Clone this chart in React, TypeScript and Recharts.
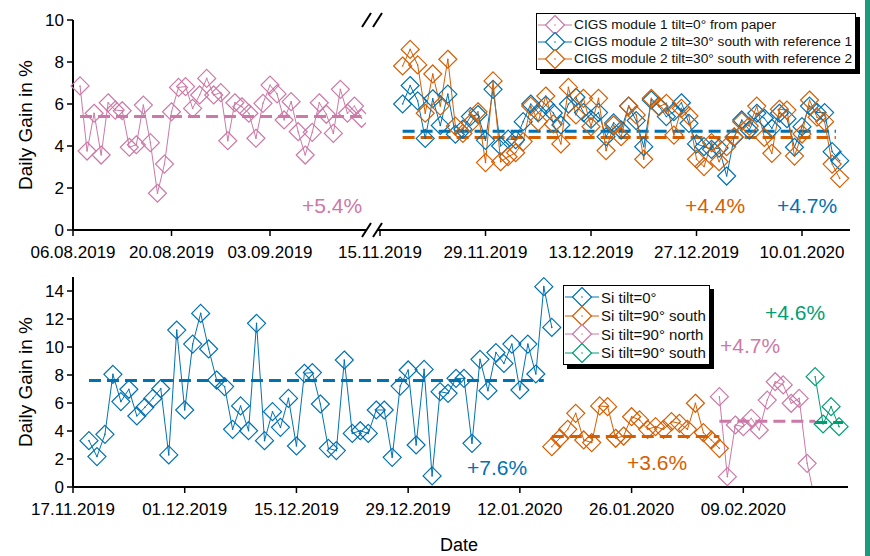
import React from "react";
import { LineChart, Line, XAxis, YAxis, ReferenceLine } from "recharts";

const PINK = "#CC79A7";
const BLUE = "#0072B2";
const ORANGE = "#D55E00";
const GREEN = "#009E73";
const FONT = "'Liberation Sans', Arial, sans-serif";

// upper panel, left block (day 0 = 06.08.2019)
const cigs1FirstDay = 1;
const cigs1Gain = [6.86, 3.76, 5.56, 3.57, 6.06, 5.71, 5.68, 3.94, 4.06, 5.95, 4.16, 1.75, 3.14, 5.63, 6.79, 6.83, 5.79, 6.43, 7.22, 6.43, 6.54, 4.25, 6.06, 5.87, 5.56, 4.37, 6.03, 6.9, 6.48, 5.24, 6.11, 4.68, 3.57, 4.65, 6.06, 5.51, 4.6, 6.7, 5.56, 5.9, 5.32];
const cigs1Mean = 5.4;
const cigs1MeanSpan = [1, 41];
const upperLeftTicks = [0, 14, 28];
const upperLeftTickLabels = ["06.08.2019", "20.08.2019", "03.09.2019"];

// upper panel, right block (day 0 = 15.11.2019)
const cigs2FirstDay = 3;
const cigs2Ref1Gain = [6.0, 6.88, 6.15, 4.36, 6.25, 4.98, 6.47, 4.56, 4.8, 5.4, 5.5, 4.27, 6.7, 4.0, 4.33, 4.3, 5.16, 6.0, 5.59, 5.95, 5.57, 5.0, 6.0, 6.32, 5.59, 5.27, 5.59, 4.44, 5.1, 4.76, 5.9, 5.21, 3.97, 6.19, 5.9, 5.4, 5.63, 6.06, 5.08, 4.1, 3.97, 3.84, 3.9, 2.57, 4.41, 5.24, 4.76, 5.56, 5.32, 4.84, 5.56, 5.3, 3.94, 4.92, 5.9, 5.6, 5.59, 3.73, 3.3];
const cigs2Ref2Gain = [7.81, 8.6, 7.86, 5.56, 7.43, 5.9, 8.13, 4.95, 4.6, 5.08, 5.63, 3.21, 7.1, 3.25, 3.49, 3.68, 4.21, 5.9, 5.16, 6.38, 5.05, 4.1, 6.79, 5.48, 6.27, 4.92, 6.27, 3.78, 5.0, 4.44, 5.9, 5.48, 3.37, 6.27, 5.87, 6.03, 4.52, 5.79, 5.43, 3.37, 3.02, 4.16, 3.25, 3.97, 4.44, 5.16, 4.95, 5.9, 4.41, 3.65, 5.75, 5.71, 3.52, 4.57, 6.19, 5.37, 5.16, 3.14, 2.46];
const cigs2Ref1Mean = 4.7;
const cigs2Ref2Mean = 4.4;
const cigs2MeanSpan = [3, 60.5];
const upperRightTicks = [0, 14, 28, 42, 56];
const upperRightTickLabels = ["15.11.2019", "29.11.2019", "13.12.2019", "27.12.2019", "10.01.2020"];

// lower panel (day 0 = 17.11.2019)
const siFlatFirstDay = 2;
const siFlatGain = [3.31, 2.17, 3.76, 8.05, 6.1, 6.98, 5.07, 5.69, 6.33, 7.02, 2.29, 11.21, 5.5, 10.21, 12.4, 9.86, 7.64, 7.17, 4.12, 5.79, 4.02, 11.69, 3.31, 5.38, 4.26, 6.33, 2.93, 8.12, 8.17, 5.93, 2.76, 2.6, 9.07, 3.83, 4.02, 3.83, 5.5, 5.5, 2.12, 7.21, 8.36, 3.0, 8.4, 0.79, 6.81, 6.69, 7.76, 7.76, 3.12, 9.12, 6.88, 9.6, 8.83, 10.21, 6.93, 10.21, 8.07, 14.31, 11.4];
const siSouthFirstDay = 60;
const siSouthGain = [2.88, 3.48, 4.12, 5.26, 3.36, 3.17, 5.79, 5.74, 3.48, 3.64, 5.02, 4.79, 4.12, 4.31, 4.12, 4.67, 4.55, 4.12, 5.98, 3.88, 3.36, 2.76];
const siNorthFirstDay = 81;
const siNorthGain = [6.45, 0.74, 4.43, 4.31, 4.9, 4.07, 6.21, 7.52, 7.29, 5.98, 6.33, 1.69, -1.0];
const siSouth2FirstDay = 93;
const siSouth2Gain = [7.88, 4.5, 5.74, 4.31];
const siFlatMean = 7.6;
const siSouthMean = 3.6;
const siNorthMean = 4.7;
const siSouth2Mean = 4.6;
const siFlatSpan = [2, 59];
const siSouthSpan = [60, 81];
const siNorthSpan = [81, 93];
const siSouth2Span = [93, 96.5];
const lowerTicks = [0, 14, 28, 42, 56, 70, 84];
const lowerTickLabels = ["17.11.2019", "01.12.2019", "15.12.2019", "29.12.2019", "12.01.2020", "26.01.2020", "09.02.2020"];

const upperYTicks = [0, 1, 2, 3, 4, 5, 6, 7, 8, 9, 10];
const lowerYTicks = [0, 1, 2, 3, 4, 5, 6, 7, 8, 9, 10, 11, 12, 13, 14];

const toPoints = (first: number, values: number[]) =>
  values.map((gain, i) => ({ day: first + i, gain }));

const axisLine = { stroke: "#000", strokeWidth: 2 };
const tickLine = { stroke: "#000", strokeWidth: 1.5 };

const diamondDot = (color: string) => (p: any) => {
  const { cx, cy, index } = p;
  if (cx == null || cy == null) return <g key={`n${index}`} />;
  const r = 9;
  return (
    <g key={`d${index}`}>
      <path d={`M${cx},${cy - r}L${cx + r},${cy}L${cx},${cy + r}L${cx - r},${cy}Z`} fill="none" stroke={color} strokeWidth={1.2} />
      <circle cx={cx} cy={cy} r={0.8} fill={color} />
    </g>
  );
};

const LeftTick = (props: any) => {
  const { x, y, payload } = props;
  const major = payload.value % 2 === 0;
  return (
    <g>
      <line x1={x} x2={x - (major ? 6 : 3.5)} y1={y} y2={y} stroke="#000" strokeWidth={1.5} />
      {major && (
        <text x={x - 9} y={y} dy="0.36em" textAnchor="end" fontSize={17} fontFamily={FONT} fill="#000">
          {payload.value}
        </text>
      )}
    </g>
  );
};

const makeBottomTick = (ticks: number[], labels: string[]) => (props: any) => {
  const { x, y, payload } = props;
  const label = labels[ticks.indexOf(payload.value)];
  return (
    <g>
      <line x1={x} x2={x} y1={y} y2={y + 6} stroke="#000" strokeWidth={1.5} />
      <text x={x} y={y + 28} textAnchor="middle" fontSize={17} fontFamily={FONT} fill="#000">
        {label}
      </text>
    </g>
  );
};

const UpperLeftTick = makeBottomTick(upperLeftTicks, upperLeftTickLabels);
const UpperRightTick = makeBottomTick(upperRightTicks, upperRightTickLabels);
const LowerTick = makeBottomTick(lowerTicks, lowerTickLabels);

const dash = { strokeWidth: 3, strokeDasharray: "12 6" };

const seriesLine = (data: any[], color: string, key: string) => (
  <Line
    key={key}
    data={data}
    dataKey="gain"
    type="linear"
    stroke={color}
    strokeWidth={1}
    dot={diamondDot(color)}
    activeDot={false}
    isAnimationActive={false}
  />
);

const LegendSwatch = ({ color }: { color: string }) => (
  <svg width={34} height={20} style={{ display: "block", flex: "none" }}>
    <line x1={0} x2={34} y1={10} y2={10} stroke={color} strokeWidth={1} />
    <path d="M17,0.5L26.5,10L17,19.5L7.5,10Z" fill="#fff" stroke={color} strokeWidth={1.2} />
    <circle cx={17} cy={10} r={0.8} fill={color} />
  </svg>
);

const Legend = ({ items, left, top, fontSize, rowHeight }: any) => (
  <div
    style={{
      position: "absolute",
      left,
      top,
      width: "max-content",
      background: "#fff",
      border: "1px solid #000",
      boxShadow: "4px 4px 0 #000",
      padding: "2px 3px 2px 1px",
      fontFamily: FONT,
      fontSize,
      color: "#111",
    }}
  >
    {items.map((it: any) => (
      <div key={it.name} style={{ display: "flex", alignItems: "center", height: rowHeight, gap: 2, whiteSpace: "nowrap" }}>
        <LegendSwatch color={it.color} />
        <span>{it.name}</span>
      </div>
    ))}
  </div>
);

const upperLegend = [
  { name: "CIGS module 1 tilt=0° from paper", color: PINK },
  { name: "CIGS module 2 tilt=30° south with reference 1", color: BLUE },
  { name: "CIGS module 2 tilt=30° south with reference 2", color: ORANGE },
];
const lowerLegend = [
  { name: "Si tilt=0°", color: BLUE },
  { name: "Si tilt=90° south", color: ORANGE },
  { name: "Si tilt=90° north", color: PINK },
  { name: "Si tilt=90° south", color: GREEN },
];

export default function App() {
  const upLeftDomain: [number, number] = [0, 41.64];
  const upRightDomain: [number, number] = [-0.4, 62.37];
  const lowDomain: [number, number] = [0, 97.12];

  return (
    <div style={{ position: "absolute", left: 0, top: 0, width: 870, height: 556, background: "#fff", overflow: "hidden" }}>
      {/* upper panel, left block */}
      <div style={{ position: "absolute", left: 0, top: 0 }}>
        <LineChart width={366} height={275} margin={{ top: 20, right: 0, bottom: 0, left: 0 }}>
          <XAxis dataKey="day" type="number" domain={upLeftDomain} ticks={upperLeftTicks} height={45} tick={<UpperLeftTick />} tickLine={false} tickSize={0} tickMargin={0} axisLine={axisLine} />
          <XAxis xAxisId="top" orientation="top" mirror type="number" domain={upLeftDomain} ticks={upperLeftTicks} height={0} tick={false} tickSize={5} tickLine={tickLine} axisLine={axisLine} allowDataOverflow />
          <YAxis type="number" domain={[0, 10]} ticks={upperYTicks} width={73} tick={<LeftTick />} tickLine={false} tickSize={0} tickMargin={0} axisLine={axisLine} />
          <ReferenceLine segment={[{ x: cigs1MeanSpan[0], y: cigs1Mean }, { x: cigs1MeanSpan[1], y: cigs1Mean }]} stroke={PINK} {...dash} />
          {seriesLine(toPoints(cigs1FirstDay, cigs1Gain), PINK, "cigs1")}
        </LineChart>
      </div>

      {/* upper panel, right block */}
      <div style={{ position: "absolute", left: 300, top: 0 }}>
        <LineChart width={570} height={275} margin={{ top: 20, right: 20, bottom: 0, left: 77 }}>
          <XAxis dataKey="day" type="number" domain={upRightDomain} ticks={upperRightTicks} height={45} tick={<UpperRightTick />} tickLine={false} tickSize={0} tickMargin={0} axisLine={axisLine} />
          <XAxis xAxisId="top" orientation="top" mirror type="number" domain={upRightDomain} ticks={upperRightTicks} height={0} tick={false} tickSize={5} tickLine={tickLine} axisLine={axisLine} allowDataOverflow />
          <YAxis orientation="right" mirror type="number" domain={[0, 10]} ticks={upperYTicks} width={0} tick={false} tickSize={4} tickLine={tickLine} axisLine={axisLine} />
          <ReferenceLine segment={[{ x: cigs2MeanSpan[0], y: cigs2Ref2Mean }, { x: cigs2MeanSpan[1], y: cigs2Ref2Mean }]} stroke={ORANGE} {...dash} />
          <ReferenceLine segment={[{ x: cigs2MeanSpan[0], y: cigs2Ref1Mean }, { x: cigs2MeanSpan[1], y: cigs2Ref1Mean }]} stroke={BLUE} {...dash} />
          {seriesLine(toPoints(cigs2FirstDay, cigs2Ref1Gain), BLUE, "ref1")}
          {seriesLine(toPoints(cigs2FirstDay, cigs2Ref2Gain), ORANGE, "ref2")}
        </LineChart>
      </div>

      {/* lower panel */}
      <div style={{ position: "absolute", left: 0, top: 257 }}>
        <LineChart width={870} height={275} margin={{ top: 20, right: 22, bottom: 0, left: 0 }}>
          <XAxis dataKey="day" type="number" domain={lowDomain} ticks={lowerTicks} height={45} tick={<LowerTick />} tickLine={false} tickSize={0} tickMargin={0} axisLine={axisLine} />
          <XAxis xAxisId="top" orientation="top" mirror type="number" domain={lowDomain} ticks={lowerTicks} height={0} tick={false} tickSize={5} tickLine={tickLine} axisLine={axisLine} allowDataOverflow />
          <YAxis type="number" domain={[0, 15]} ticks={lowerYTicks} width={73} tick={<LeftTick />} tickLine={false} tickSize={0} tickMargin={0} axisLine={axisLine} allowDataOverflow />
          <YAxis yAxisId="right" orientation="right" mirror type="number" domain={[0, 15]} ticks={lowerYTicks} width={0} tick={false} tickSize={4} tickLine={tickLine} axisLine={axisLine} allowDataOverflow />
          <ReferenceLine segment={[{ x: siFlatSpan[0], y: siFlatMean }, { x: siFlatSpan[1], y: siFlatMean }]} stroke={BLUE} {...dash} />
          <ReferenceLine segment={[{ x: siSouthSpan[0], y: siSouthMean }, { x: siSouthSpan[1], y: siSouthMean }]} stroke={ORANGE} {...dash} />
          <ReferenceLine segment={[{ x: siNorthSpan[0], y: siNorthMean }, { x: siNorthSpan[1], y: siNorthMean }]} stroke={PINK} {...dash} />
          <ReferenceLine segment={[{ x: siSouth2Span[0], y: siSouth2Mean }, { x: siSouth2Span[1], y: siSouth2Mean }]} stroke={GREEN} {...dash} />
          {seriesLine(toPoints(siFlatFirstDay, siFlatGain), BLUE, "flat")}
          {seriesLine(toPoints(siSouthFirstDay, siSouthGain), ORANGE, "south")}
          {seriesLine(toPoints(siNorthFirstDay, siNorthGain), PINK, "north")}
          {seriesLine(toPoints(siSouth2FirstDay, siSouth2Gain), GREEN, "south2")}
        </LineChart>
      </div>

      {/* labels, annotations and axis break */}
      <svg width={870} height={556} style={{ position: "absolute", left: 0, top: 0, pointerEvents: "none" }}>
        <g fontFamily={FONT}>
          <text transform="translate(32,125) rotate(-90)" textAnchor="middle" fontSize={19} fill="#000">Daily Gain in %</text>
          <text transform="translate(32,382) rotate(-90)" textAnchor="middle" fontSize={19} fill="#000">Daily Gain in %</text>
          <text x={459} y={551} textAnchor="middle" fontSize={18} fill="#000">Date</text>
          <text x={302} y={213} fontSize={21} fill={PINK}>+5.4%</text>
          <text x={685} y={213} fontSize={21} fill={ORANGE}>+4.4%</text>
          <text x={777} y={213} fontSize={21} fill={BLUE}>+4.7%</text>
          <text x={467} y={475} fontSize={21} fill={BLUE}>+7.6%</text>
          <text x={627} y={470} fontSize={21} fill={ORANGE}>+3.6%</text>
          <text x={720} y={353} fontSize={21} fill={PINK}>+4.7%</text>
          <text x={765} y={320} fontSize={21} fill={GREEN}>+4.6%</text>
        </g>
        <g stroke="#000" strokeWidth={2}>
          <line x1={362} y1={27} x2={371} y2={13} />
          <line x1={373} y1={27} x2={382} y2={13} />
          <line x1={362} y1={237} x2={371} y2={223} />
          <line x1={373} y1={237} x2={382} y2={223} />
        </g>
      </svg>

      <Legend items={upperLegend} left={536} top={13} fontSize={13.7} rowHeight={17} />
      <Legend items={lowerLegend} left={563} top={285} fontSize={15} rowHeight={18.5} />

      <div style={{ position: "absolute", left: 865, top: 0, width: 5, height: 556, background: "#1a9c7c" }} />
    </div>
  );
}
